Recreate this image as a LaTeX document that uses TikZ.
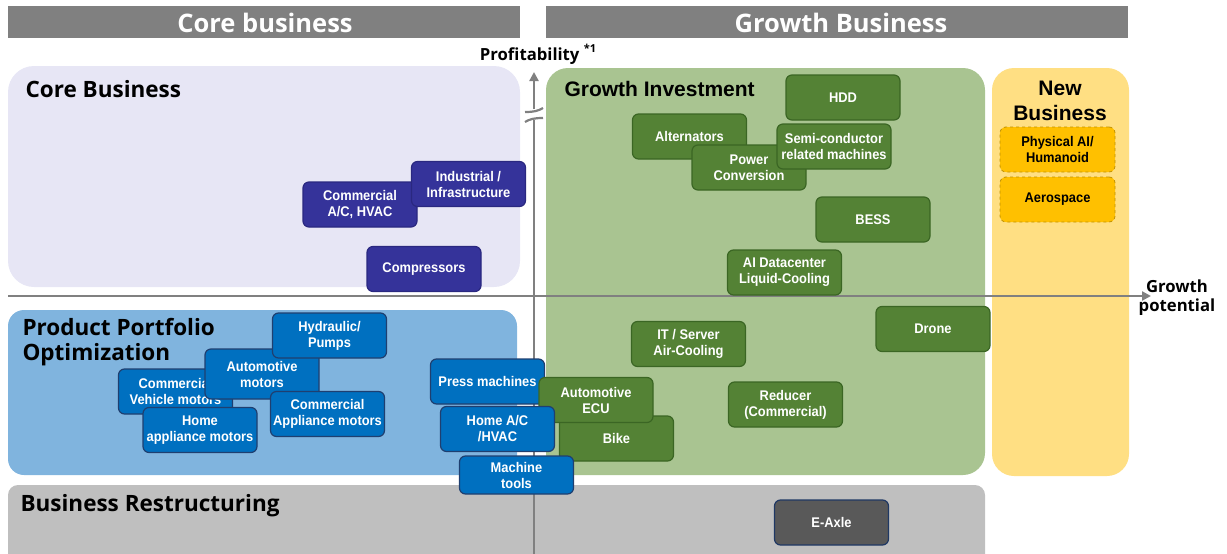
\documentclass[tikz,border=0pt]{standalone}
\usepackage{fontspec}
\setmainfont{Liberation Sans}
\newfontfamily\nf[FakeStretch=0.92]{Liberation Sans}
\newfontfamily\tf{Open Sans}
\usetikzlibrary{arrows.meta}
\definecolor{hdrgray}{HTML}{808080}
\definecolor{coreBg}{HTML}{E7E6F5}
\definecolor{growBg}{HTML}{A9C491}
\definecolor{newBg}{HTML}{FFDF83}
\definecolor{ppoBg}{HTML}{80B4DE}
\definecolor{resBg}{HTML}{BFBFBF}
\definecolor{navyFill}{HTML}{35339A}
\definecolor{navyLine}{HTML}{2A2880}
\definecolor{grnFill}{HTML}{548235}
\definecolor{grnLine}{HTML}{3B6624}
\definecolor{bluFill}{HTML}{0070C0}
\definecolor{bluLine}{HTML}{1F3F70}
\definecolor{ambFill}{HTML}{FFC000}
\definecolor{ambLine}{HTML}{BF9000}
\definecolor{axisGray}{HTML}{808080}
\definecolor{axleFill}{HTML}{595959}
\definecolor{axleLine}{HTML}{1F3864}
\tikzset{
  box/.style={rounded corners=6pt, line width=1.2pt, minimum width=114pt, minimum height=45pt,
    inner sep=1pt, align=center, text=white, font=\nf\bfseries\fontsize{14}{16}\selectfont},
  navybox/.style={box, fill=navyFill, draw=navyLine},
  grnbox/.style={box, fill=grnFill, draw=grnLine},
  blubox/.style={box, fill=bluFill, draw=bluLine},
  ambbox/.style={box, fill=ambFill, draw=ambLine, dashed, text=black, line width=0.8pt},
  axlebox/.style={box, fill=axleFill, draw=axleLine},
  hdr/.style={fill=hdrgray, draw=none},
  hdrtext/.style={text=white, font=\tf\bfseries\fontsize{25.5}{28}\selectfont},
  regtitle/.style={text=black, anchor=west, align=left, font=\tf\bfseries\fontsize{22.5}{25}\selectfont},
  regtitleA/.style={text=black, align=center, font=\bfseries\fontsize{21}{25}\selectfont},
  axisline/.style={draw=axisGray, line width=2.4pt},
  axlab/.style={text=black, font=\tf\bfseries\fontsize{16.7}{19}\selectfont},
}
\begin{document}
\begin{tikzpicture}[x=1pt,y=-1pt]
\useasboundingbox (0,0) rectangle (1227,554);
% headers
\fill[hdr] (8,6) rectangle (520,38);
\fill[hdr] (546,6) rectangle (1128,38);
\node[hdrtext] (hcore) at (265,23) {Core business};
\node[hdrtext] (hgrowth) at (841,23) {Growth Business};
% regions
\fill[coreBg, rounded corners=26pt] (8,66) rectangle (520,287);
\fill[growBg, rounded corners=22pt] (546,68) rectangle (985,475);
\fill[newBg, rounded corners=22pt] (992,68) rectangle (1129,476);
\fill[ppoBg, rounded corners=16pt] (8,310) rectangle (517,475);
\fill[resBg, rounded corners=10pt] (8,485) rectangle (985,580);
% region titles
\node[regtitle] (tcore) at (22,89) {Core Business};
\node[regtitleA, anchor=west] (tgrow) at (561,89) {Growth Investment};
\node[regtitleA] (tnew) at (1060,101) {New\\Business};
\node[regtitle] (tppo) at (19,342) {Product Portfolio\\Optimization};
\node[regtitle] (tres) at (17,506) {Business Restructuring};
% axes
\coordinate (vbot) at (534,554);
\coordinate (vb1) at (534,120);
\coordinate (vb2) at (534,109);
\coordinate (vtop) at (534,72);
\coordinate (hleft) at (8,296);
\coordinate (hright) at (1151,296);
\draw[axisline] (vbot) -- (vb1);
\draw[axisline, -{Triangle[length=9pt,width=9pt]}] (vb2) -- (vtop);
\draw[draw=axisGray, line width=2.2pt] (525,112) .. controls (534,112) and (538,111) .. (543,108);
\draw[draw=axisGray, line width=2.2pt] (525,122) .. controls (530,119) and (534,118) .. (543,118);
\draw[axisline, -{Triangle[length=9pt,width=9pt]}] (hleft) -- (hright);
\node[axlab, anchor=south] (lprof) at (538,68) {Profitability \raisebox{0.45em}{\fontsize{11}{11}\selectfont *1}};
\node[axlab, align=center] (lgrowth) at (1177,298) {Growth\\potential};
% core nodes
\node[navybox] (cac) at (360,204.5) {Commercial\\A/C, HVAC};
\node[navybox] (ind) at (468.5,184) {Industrial /\\Infrastructure};
\node[navybox] (comp) at (424,269) {Compressors};
% growth nodes
\node[grnbox] (hdd) at (843,97.5) {HDD};
\node[grnbox] (alt) at (689.5,136.5) {Alternators};
\node[grnbox] (pc) at (749,167.5) {Power\\Conversion};
\node[grnbox] (semi) at (834,146.5) {Semi-conductor\\related machines};
\node[grnbox] (bess) at (873,219.5) {BESS};
\node[grnbox] (aidc) at (784.5,272.5) {AI Datacenter\\Liquid-Cooling};
\node[grnbox] (drone) at (933,329) {Drone};
\node[grnbox] (its) at (688.5,344) {IT / Server\\Air-Cooling};
\node[grnbox] (red) at (785.5,404.5) {Reducer\\(Commercial)};
% new business nodes
\node[ambbox, minimum width=115pt, minimum height=45pt] (phys) at (1057.5,149.5) {Physical AI/\\Humanoid};
\node[ambbox, minimum width=115pt, minimum height=45pt] (aero) at (1057.5,199.5) {Aerospace};
% portfolio nodes
\node[blubox] (cvm) at (175.5,391.5) {Commercial\\Vehicle motors};
\node[blubox, minimum height=50pt] (amot) at (262,374) {Automotive\\motors};
\node[blubox] (hyd) at (329.5,335.5) {Hydraulic/\\Pumps};
\node[blubox] (ham) at (200,430) {Home\\appliance motors};
\node[blubox] (cam) at (327.5,414) {Commercial\\Appliance motors};
\node[blubox] (press) at (487.5,381.5) {Press machines};
\node[grnbox] (bike) at (616.5,438.5) {Bike};
\node[grnbox] (ecu) at (596,400) {Automotive\\ECU};
\node[blubox] (hac) at (497.5,429) {Home A/C\\/HVAC};
\node[blubox, minimum height=38pt] (mt) at (516.5,475) {Machine\\tools};
% restructuring
\node[axlebox] (eaxle) at (831.5,522.5) {E-Axle};
\end{tikzpicture}
\end{document}
